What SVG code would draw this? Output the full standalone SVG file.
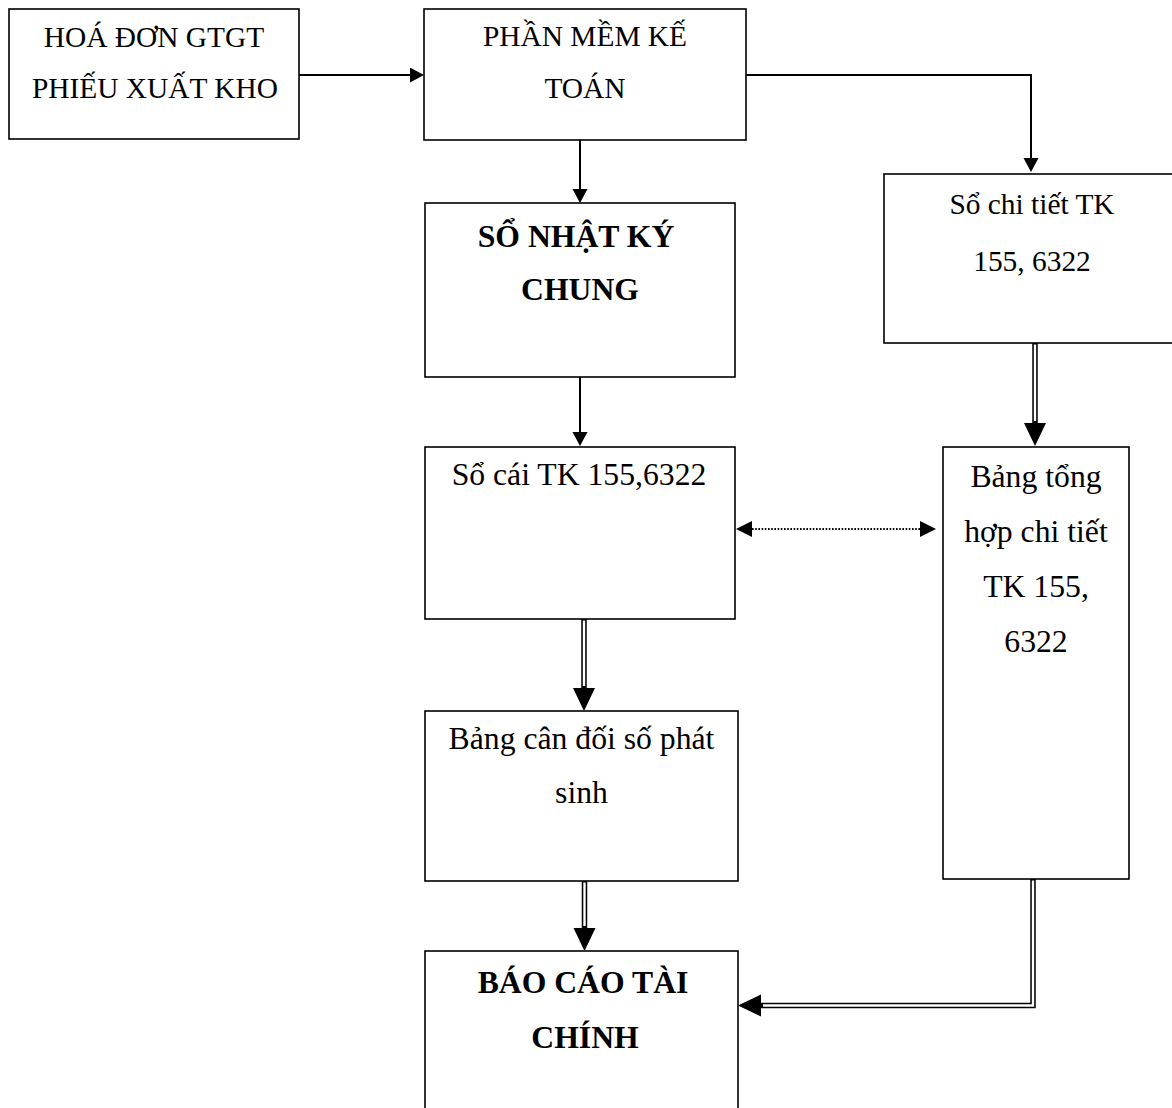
<svg xmlns="http://www.w3.org/2000/svg" width="1172" height="1108" viewBox="0 0 1172 1108">
  <style>
    .box { fill: #fff; stroke: #000; stroke-width: 1.6; }
    .t { font-family: "Liberation Serif", "Times New Roman", serif; fill: #000; text-anchor: middle; }
    .s13 { font-size: 29.4px; }
    .s14 { font-size: 31.7px; }
    .b { font-weight: bold; }
    .ln { fill: none; stroke: #000; stroke-width: 2; }
    .dot { fill: none; stroke: #000; stroke-width: 2; stroke-dasharray: 1.6 1.6; }
    .dbl { fill: none; stroke: #000; stroke-width: 5.5; stroke-linejoin: miter; }
    .gap { fill: none; stroke: #fff; stroke-width: 2.4; stroke-linejoin: miter; }
  </style>
  <defs>
    <!-- small solid arrowhead, base at the path end -->
    <marker id="ah" markerUnits="userSpaceOnUse" markerWidth="15" markerHeight="16" refX="0" refY="7.5" orient="auto">
      <path d="M0,0 L14,7.5 L0,15 z" fill="#000"/>
    </marker>
    <!-- arrowhead for the dotted two-way link -->
    <marker id="ahd" markerUnits="userSpaceOnUse" markerWidth="17" markerHeight="17" refX="0" refY="8" orient="auto-start-reverse">
      <path d="M0,0 L16,8 L0,16 z" fill="#000"/>
    </marker>
    <!-- large arrowhead for the double-line flows -->
    <marker id="ahb" markerUnits="userSpaceOnUse" markerWidth="24" markerHeight="23" refX="0" refY="11" orient="auto">
      <path d="M0,0 L23,11 L0,22 z" fill="#000"/>
    </marker>
  </defs>

  <g id="n-hoadon">
    <rect class="box" x="9" y="9" width="290" height="130"/>
    <text class="t s13" x="154" y="46.5">HOÁ ĐƠN GTGT</text>
    <text class="t s13" x="155" y="98">PHIẾU XUẤT KHO</text>
  </g>

  <g id="n-phanmem">
    <rect class="box" x="424" y="9" width="322" height="131"/>
    <text class="t s13" x="585" y="46">PHẦN MỀM KẾ</text>
    <text class="t s13" x="585" y="98">TOÁN</text>
  </g>

  <g id="n-nhatky">
    <rect class="box" x="425" y="203" width="310" height="174"/>
    <text class="t s14 b" x="576" y="246.5">SỔ NHẬT KÝ</text>
    <text class="t s14 b" x="580" y="300">CHUNG</text>
  </g>

  <g id="n-sochitiet">
    <rect class="box" x="884" y="174" width="300" height="169"/>
    <text class="t s13" x="1032" y="213.5">Sổ chi tiết TK</text>
    <text class="t s13" x="1032" y="270.5">155, 6322</text>
  </g>

  <g id="n-socai">
    <rect class="box" x="425" y="447" width="310" height="172"/>
    <text class="t s14" x="579" y="485">Sổ cái TK 155,6322</text>
  </g>

  <g id="n-tonghop">
    <rect class="box" x="943" y="447" width="186" height="432"/>
    <text class="t s14" x="1036" y="486.5">Bảng tổng</text>
    <text class="t s14" x="1036" y="541.5">hợp chi tiết</text>
    <text class="t s14" x="1036" y="596.5">TK 155,</text>
    <text class="t s14" x="1036" y="652">6322</text>
  </g>

  <g id="n-candoi">
    <rect class="box" x="425" y="711" width="313" height="170"/>
    <text class="t s14" x="581.5" y="749">Bảng cân đối số phát</text>
    <text class="t s14" x="581.5" y="803">sinh</text>
  </g>

  <g id="n-baocao">
    <rect class="box" x="425" y="951" width="313" height="170"/>
    <text class="t s14 b" x="583" y="993">BÁO CÁO TÀI</text>
    <text class="t s14 b" x="585" y="1048">CHÍNH</text>
  </g>

  <g id="connectors">
    <!-- single-line flows -->
    <path class="ln" d="M299,75 H410" marker-end="url(#ah)"/>
    <path class="ln" d="M580,140 V189" marker-end="url(#ah)"/>
    <path class="ln" d="M746,75 H1031 V158" marker-end="url(#ah)"/>
    <path class="ln" d="M580,377 V432" marker-end="url(#ah)"/>

    <!-- dotted cross-check between ledger and detail summary -->
    <path class="dot" d="M752,529 H920" marker-start="url(#ahd)" marker-end="url(#ahd)"/>

    <!-- double-line flows -->
    <path class="dbl" d="M1035,343 V423" marker-end="url(#ahb)"/>
    <path class="gap" d="M1035,344.5 V421"/>

    <path class="dbl" d="M584,619 V688" marker-end="url(#ahb)"/>
    <path class="gap" d="M584,620.5 V686"/>

    <path class="dbl" d="M584.5,881 V928" marker-end="url(#ahb)"/>
    <path class="gap" d="M584.5,882.5 V926"/>

    <path class="dbl" d="M1033,879 V1005.5 H761" marker-end="url(#ahb)"/>
    <path class="gap" d="M1033,880.5 V1005.5 H763"/>
  </g>
</svg>
